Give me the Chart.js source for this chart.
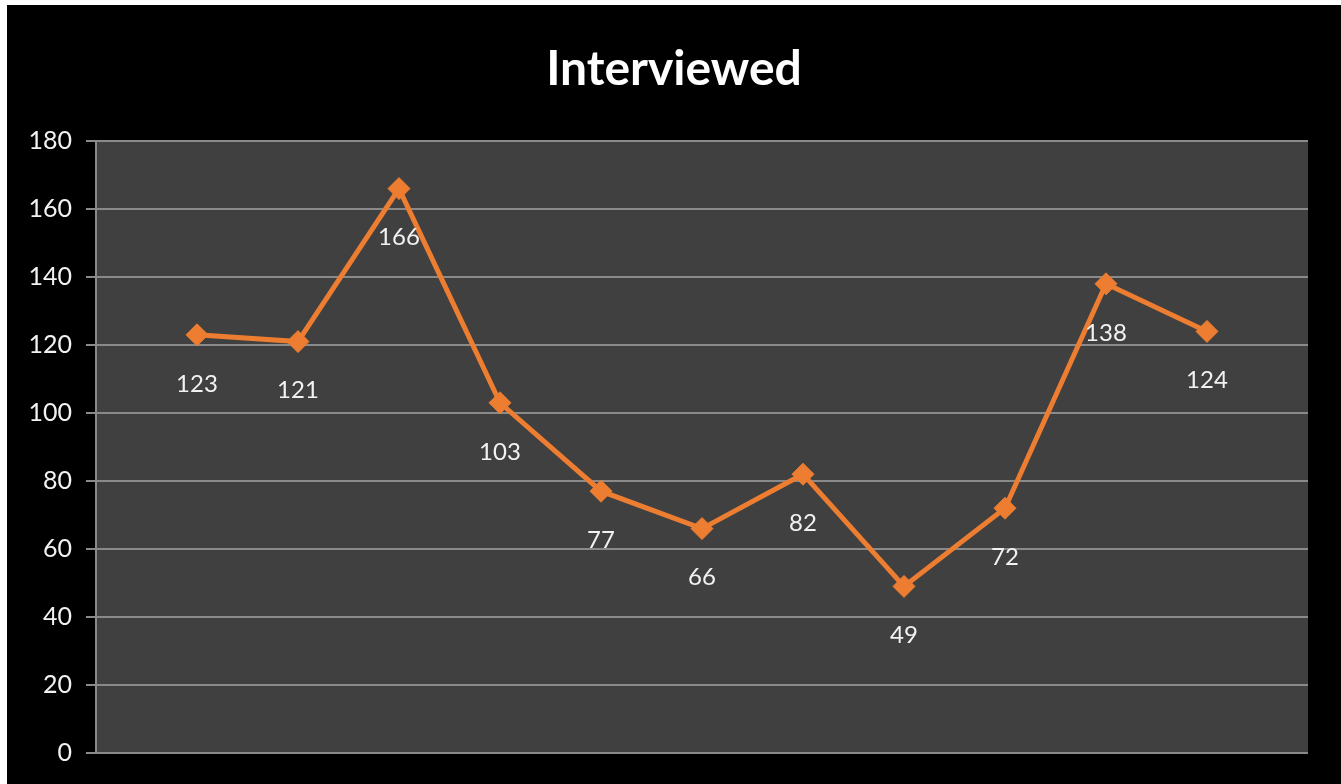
<!DOCTYPE html>
<html>
<head>
<meta charset="utf-8">
<script src="https://cdn.jsdelivr.net/npm/chart.js@4/dist/chart.umd.min.js"></script>
<style>
  html, body { margin: 0; padding: 0; background: #ffffff; }
  #wrap { position: absolute; left: 7px; top: 5px; width: 1334px; height: 779px; background: #000000; }
</style>
</head>
<body>
<div id="wrap"><canvas id="lineChart"></canvas></div>
<script>
const chartTitle = "Interviewed";
const interviewed = [123, 121, 166, 103, 77, 66, 82, 49, 72, 138, 124];
const yTicks = { min: 0, max: 180, step: 20 };

// points sit one step in from each side of the plot
const points = interviewed.map((v, i) => ({ x: i + 1, y: v }));

const plotBackground = {
  id: "plotBackground",
  beforeDraw(chart) {
    const { ctx, chartArea } = chart;
    ctx.save();
    ctx.fillStyle = "#404040";
    ctx.fillRect(chartArea.left, chartArea.top, chartArea.right - chartArea.left, chartArea.bottom - chartArea.top);
    ctx.restore();
  },
};

// title centred on the whole canvas, not just the plot
const centeredTitle = {
  id: "centeredTitle",
  afterDraw(chart) {
    const ctx = chart.ctx;
    ctx.save();
    ctx.font = "bold 48px Lato";
    ctx.fillStyle = "#ffffff";
    ctx.textAlign = "center";
    ctx.textBaseline = "middle";
    ctx.fillText(chartTitle, chart.width / 2, 65);
    ctx.restore();
  },
};

const valueLabels = {
  id: "valueLabels",
  afterDatasetsDraw(chart) {
    const ctx = chart.ctx;
    const meta = chart.getDatasetMeta(0);
    ctx.save();
    ctx.font = "24px Lato";
    ctx.fillStyle = "#f2f2f2";
    ctx.textAlign = "center";
    ctx.textBaseline = "middle";
    meta.data.forEach((pt, i) => {
      ctx.fillText(String(interviewed[i]), pt.x, pt.y + 49);
    });
    ctx.restore();
  },
};

const ctx = document.getElementById("lineChart").getContext("2d");
const chart = new Chart(ctx, {
  type: "line",
  data: {
    datasets: [
      {
        data: points,
        borderColor: "#ED7D31",
        backgroundColor: "#ED7D31",
        borderWidth: 5,
        pointStyle: "rectRot",
        pointRadius: 11,
        pointBorderWidth: 1,
        tension: 0,
      },
    ],
  },
  options: {
    responsive: true,
    maintainAspectRatio: false,
    animation: false,
    layout: { padding: { left: 0, right: 33, top: 136, bottom: 31 } },
    plugins: {
      legend: { display: false },
      tooltip: { enabled: false },
      title: { display: false },
    },
    scales: {
      x: {
        type: "linear",
        min: 0,
        max: interviewed.length + 1,
        display: false,
      },
      y: {
        min: yTicks.min,
        max: yTicks.max,
        afterFit(scale) {
          scale.width = 89;
        },
        ticks: {
          stepSize: yTicks.step,
          color: "#f2f2f2",
          padding: 14,
          font: { family: "Lato", size: 25 },
        },
        grid: {
          color: "#8a8a8a",
          lineWidth: 2,
          tickLength: 10,
        },
        border: { color: "#8a8a8a", width: 2 },
      },
    },
  },
  plugins: [plotBackground, centeredTitle, valueLabels],
});
</script>
</body>
</html>
